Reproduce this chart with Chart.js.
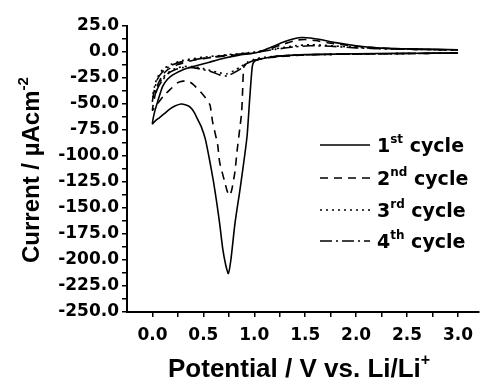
<!DOCTYPE html>
<html>
<head>
<meta charset="utf-8">
<script src="https://cdn.jsdelivr.net/npm/chart.js@4"></script>
<style>
  html, body { margin: 0; padding: 0; background: #fff; }
  #cv { display: block; }
</style>
</head>
<body>
<canvas id="cv" width="481" height="382"></canvas>
<script>
// Cyclic voltammetry, four cycles. Each sweep starts at 3.0 V, runs down to 0.0 V and back.
const potential1 = [3.0, 2.6, 2.2, 1.8, 1.5, 1.3, 1.15, 1.05, 1.0, 0.98, 0.955, 0.93, 0.905, 0.86, 0.81, 0.77, 0.745, 0.72, 0.69, 0.66, 0.63, 0.6, 0.565, 0.52, 0.48, 0.45, 0.41, 0.37, 0.33, 0.28, 0.22, 0.17, 0.12, 0.07, 0.03, 0.0,
                    0.02, 0.05, 0.1, 0.15, 0.2, 0.3, 0.4, 0.55, 0.7, 0.85, 1.0, 1.1, 1.2, 1.3, 1.4, 1.47, 1.55, 1.65, 1.8, 2.0, 2.2, 2.5, 2.8, 3.0];
const current1   = [-1, -1.2, -1.5, -2, -2.5, -3.5, -5, -7, -9, -14, -45, -80, -100, -132, -165, -200, -213, -205, -189, -165, -144, -125, -106, -84, -72, -66, -58, -53, -51, -50, -52, -55, -59, -63, -66, -69,
                    -58, -48, -33, -26, -22, -17, -14, -10, -6, -3, -1, 2, 6, 10, 13, 14, 13.5, 12, 9, 6, 4, 3, 2.5, 2];

const potential2 = [3.0, 2.5, 2.0, 1.6, 1.3, 1.1, 1.0, 0.95, 0.9, 0.886, 0.876, 0.857, 0.83, 0.81, 0.78, 0.76, 0.735, 0.71, 0.66, 0.64, 0.59, 0.565, 0.52, 0.47, 0.42, 0.37, 0.3, 0.24, 0.175, 0.12, 0.07, 0.03, 0.0,
                    0.02, 0.05, 0.1, 0.15, 0.25, 0.4, 0.6, 0.8, 1.0, 1.15, 1.3, 1.42, 1.5, 1.6, 1.75, 2.0, 2.3, 2.6, 3.0];
const current2   = [-1, -1.5, -2, -2.5, -4, -6, -8, -10, -13, -36, -58, -74, -96, -115, -132, -138, -134, -125, -106, -89, -67, -51, -44, -38, -33, -29, -28, -30, -36, -41, -47, -52, -56,
                    -44, -32, -22, -17, -12, -8, -5, -3, -1, 3, 8, 11.5, 12, 11, 8.5, 5.5, 3.5, 2.5, 2];

const potential3 = [3.0, 2.5, 2.0, 1.6, 1.3, 1.1, 1.0, 0.93, 0.87, 0.8, 0.73, 0.66, 0.58, 0.5, 0.4, 0.3, 0.22, 0.15, 0.1, 0.06, 0.03, 0.0,
                    0.02, 0.05, 0.1, 0.18, 0.3, 0.5, 0.75, 1.0, 1.2, 1.4, 1.55, 1.75, 2.0, 2.3, 2.6, 3.0];
const current3   = [-1, -1.5, -2, -2.5, -3.5, -5, -7, -10, -14, -18, -21, -20, -18, -16, -14, -14, -16, -20, -25, -31, -37, -44,
                    -33, -24, -17, -12, -8, -5, -2.5, 0, 3, 6, 7, 6, 4.5, 3, 2.5, 2];

const potential4 = [3.0, 2.5, 2.0, 1.6, 1.3, 1.1, 1.0, 0.93, 0.87, 0.8, 0.73, 0.66, 0.58, 0.5, 0.4, 0.3, 0.22, 0.15, 0.1, 0.06, 0.03, 0.0,
                    0.02, 0.05, 0.1, 0.18, 0.3, 0.5, 0.75, 1.0, 1.2, 1.4, 1.55, 1.75, 2.0, 2.3, 2.6, 3.0];
const current4   = [-1, -1.5, -2, -2.5, -3.5, -5.5, -8, -11, -16, -20, -23, -22, -19, -17, -15, -15, -17, -21, -27, -33, -40, -48,
                    -36, -26, -19, -13, -9, -6, -3, -0.5, 2.5, 5, 6, 5.5, 4, 3, 2.5, 2];

const cycleNumbers  = ['1', '2', '3', '4'];
const cycleSuffixes = ['st', 'nd', 'rd', 'th'];

// Axis ranges and tick spacing
const xMin = -0.25, xMax = 3.2, xMajor = 0.5, xMinor = 0.25, xFirst = 0, xLast = 3.0;
const yMin = -250, yMax = 25, yMajor = 25, yMinor = 12.5;

const TICK_FONT = '"DejaVu Sans", sans-serif';
const TITLE_FONT = '"Liberation Sans", Arial, sans-serif';
const dashes = [[], [8, 6], [2, 4], [12, 4, 2, 4]];

const potentials = [potential1, potential2, potential3, potential4];
const currents = [current1, current2, current3, current4];

const datasets = potentials.map((v, k) => ({
  label: cycleNumbers[k] + cycleSuffixes[k] + ' cycle',
  data: v.map((x, j) => ({ x: x, y: currents[k][j] })),
  showLine: true,
  borderColor: '#000',
  borderWidth: 1.6,
  borderDash: dashes[k],
  pointRadius: 0,
  tension: 0.2,
  fill: false
}));

function makeTicks(from, to, step) {
  const out = [];
  const n = Math.round((to - from) / step);
  for (let i = 0; i <= n; i++) out.push({ value: +(from + i * step).toFixed(4) });
  return out;
}

function isMajor(v, step) {
  return Math.abs(v / step - Math.round(v / step)) < 1e-6;
}

// Text with raised parts (superscripts)
function drawRich(ctx, parts, x, y, size, family) {
  let cx = x;
  ctx.textAlign = 'left';
  ctx.textBaseline = 'alphabetic';
  for (const p of parts) {
    const s = p.sup ? Math.round(size * 0.62) : size;
    ctx.font = 'bold ' + s + 'px ' + family;
    ctx.fillText(p.t, cx, p.sup ? y - size * 0.45 : y);
    cx += ctx.measureText(p.t).width;
  }
}

const labelsPlugin = {
  id: 'labels',
  afterDraw(chart) {
    const ctx = chart.ctx;
    ctx.save();
    ctx.fillStyle = '#000';

    // y axis title
    ctx.save();
    ctx.translate(39, 263);
    ctx.rotate(-Math.PI / 2);
    drawRich(ctx, [{ t: 'Current / \u00b5Acm' }, { t: '-2', sup: true }], 0, 0, 24, TITLE_FONT);
    ctx.restore();

    // x axis title
    drawRich(ctx, [{ t: 'Potential / V vs. Li/Li' }, { t: '+', sup: true }], 168, 377, 26, TITLE_FONT);

    // legend
    const rows = [145, 178, 210, 241];
    chart.data.datasets.forEach((ds, k) => {
      const y = rows[k];
      ctx.save();
      ctx.strokeStyle = '#000';
      ctx.lineWidth = 1.6;
      ctx.setLineDash(dashes[k]);
      ctx.beginPath();
      ctx.moveTo(320, y);
      ctx.lineTo(370, y);
      ctx.stroke();
      ctx.restore();
      drawRich(ctx, [{ t: cycleNumbers[k] }, { t: cycleSuffixes[k], sup: true }, { t: ' cycle' }], 377, y + 6.5, 19, TICK_FONT);
    });
    ctx.restore();
  }
};

new Chart(document.getElementById('cv'), {
  type: 'scatter',
  data: { datasets: datasets },
  options: {
    responsive: false,
    animation: false,
    devicePixelRatio: 1,
    layout: { padding: { top: 26, right: 0, bottom: 0, left: 0 } },
    plugins: { legend: { display: false }, tooltip: { enabled: false } },
    scales: {
      x: {
        type: 'linear',
        min: xMin,
        max: xMax,
        afterBuildTicks(scale) { scale.ticks = makeTicks(xFirst, xLast, xMinor); },
        afterFit(scale) { scale.height = 70; },
        border: { display: true, color: '#000', width: 2 },
        grid: { display: true, drawOnChartArea: false, drawTicks: true, tickLength: 5, color: '#000', lineWidth: 1.5 },
        ticks: {
          autoSkip: false,
          maxRotation: 0,
          padding: 8,
          color: '#000',
          font: { family: TICK_FONT, size: 17, weight: 'bold' },
          callback: (v) => isMajor(v, xMajor) ? v.toFixed(1) : ''
        }
      },
      y: {
        type: 'linear',
        min: yMin,
        max: yMax,
        afterBuildTicks(scale) { scale.ticks = makeTicks(yMin, yMax, yMinor); },
        afterFit(scale) { scale.width = 127; },
        border: { display: true, color: '#000', width: 2 },
        grid: { display: true, drawOnChartArea: false, drawTicks: true, tickLength: 5, color: '#000', lineWidth: 1.5 },
        ticks: {
          autoSkip: false,
          padding: 3,
          color: '#000',
          font: { family: TICK_FONT, size: 17, weight: 'bold' },
          callback: (v) => isMajor(v, yMajor) ? v.toFixed(1) : ''
        }
      }
    }
  },
  plugins: [labelsPlugin]
});
</script>
</body>
</html>
